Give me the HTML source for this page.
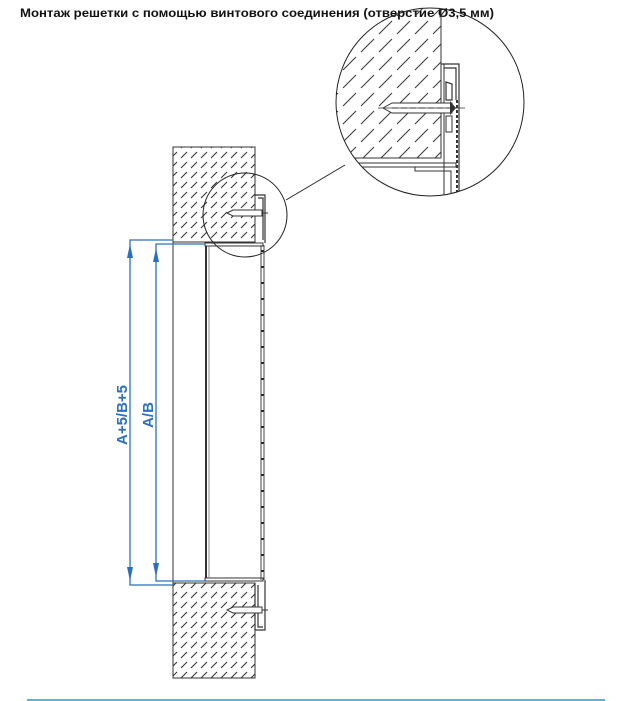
<!DOCTYPE html>
<html><head><meta charset="utf-8"><style>
html,body{margin:0;padding:0;background:#fff;}
svg{display:block;}
</style></head><body>
<svg width="623" height="701" viewBox="0 0 623 701" xmlns="http://www.w3.org/2000/svg">
<defs>
<pattern id="h" width="10" height="10" patternUnits="userSpaceOnUse">
<line x1="1" y1="8" x2="7" y2="2" stroke="#333" stroke-width="1.1"/>
</pattern>
<pattern id="hb" width="18" height="18" patternUnits="userSpaceOnUse">
<line x1="1" y1="16" x2="14" y2="3" stroke="#333" stroke-width="1"/>
</pattern>
<clipPath id="c"><circle cx="430" cy="102" r="94"/></clipPath>
</defs>
<text x="20" y="17" font-family="Liberation Sans, sans-serif" font-weight="bold" font-size="12" textLength="474" lengthAdjust="spacingAndGlyphs" fill="#111">Монтаж решетки с помощью винтового соединения (отверстие Ø3,5 мм)</text>

<rect x="173" y="147" width="82" height="95" fill="url(#h)" stroke="#333" stroke-width="1"/>
<rect x="173" y="583" width="82" height="95" fill="url(#h)" stroke="#333" stroke-width="1"/>
<line x1="173" y1="242" x2="173" y2="583" stroke="#333"/>
<rect x="205" y="243" width="58" height="3" fill="#fff" stroke="#333" stroke-width="1"/>
<rect x="205" y="578" width="58" height="3" fill="#fff" stroke="#333" stroke-width="1"/>
<line x1="206" y1="246" x2="206" y2="578" stroke="#333" stroke-width="2"/>
<line x1="209" y1="246" x2="209" y2="578" stroke="#888" stroke-width="1"/>
<line x1="261" y1="245" x2="261" y2="580" stroke="#444" stroke-width="1"/>
<line x1="262.5" y1="250" x2="262.5" y2="578" stroke="#222" stroke-width="2" stroke-dasharray="2 14"/>
<line x1="264" y1="245" x2="264" y2="580" stroke="#444" stroke-width="1"/>
<path d="M255 195 H265 V243 M258 198 H263 V240" fill="none" stroke="#333" stroke-width="1.2"/>
<line x1="255" y1="195" x2="255" y2="243" stroke="#333"/>
<path d="M255 583 V630 H265 V580 M258 585 V627 H263" fill="none" stroke="#333" stroke-width="1.2"/>
<g stroke="#333" stroke-width="1" fill="#fff">
<path d="M227 213 L233 210 H262 V216 H233 Z"/><line x1="262" y1="213" x2="268" y2="213"/>
<path d="M227 610 L233 607 H262 V613 H233 Z"/><line x1="262" y1="610" x2="268" y2="610"/>
</g>
<circle cx="245" cy="215" r="42" fill="none" stroke="#222" stroke-width="1"/>
<line x1="286" y1="200" x2="345" y2="165" stroke="#222"/>

<g clip-path="url(#c)">
<rect x="330" y="0" width="111" height="158" fill="url(#hb)"/>
<line x1="441" y1="0" x2="441" y2="158" stroke="#333"/>
<line x1="330" y1="158" x2="441" y2="158" stroke="#333"/>
<rect x="348" y="163" width="108" height="4" fill="#fff" stroke="#333"/>
<path d="M415 167 V171 H451 V210" fill="none" stroke="#333"/>
<path d="M441 64 H459 V196 H453 M444 68 H456 V100 M446 82 V100 H452 V84 Z" fill="none" stroke="#333" stroke-width="1.2"/>
<line x1="444" y1="64" x2="444" y2="200" stroke="#333" stroke-width="1"/>
<line x1="457" y1="100" x2="457" y2="200" stroke="#333" stroke-width="2" stroke-dasharray="3 2"/>
<path d="M446 116 V132 H452 V116 Z" fill="none" stroke="#333"/>
<path d="M383 108 L392 103 H452 V113 H392 Z" fill="#fff" stroke="#333"/>
<line x1="392" y1="108" x2="452" y2="108" stroke="#333" stroke-dasharray="6 3"/>
<line x1="378" y1="108" x2="465" y2="108" stroke="#333" stroke-width="0.8"/>
<path d="M450 101 L456 108 L450 115 Z" fill="#333"/>
</g>
<circle cx="430" cy="102" r="94" fill="none" stroke="#222" stroke-width="1"/>

<g stroke="#2a6fc0" stroke-width="1.3" fill="none">
<path d="M173 240 H130 V585 H173"/>
<path d="M205 244 H156 V581 H205"/>
</g>
<g fill="#2a6fc0">
<path d="M127 258 L130 244 L133 258 Z"/><path d="M127 567 L130 581 L133 567 Z"/>
<path d="M153 262 L156 248 L159 262 Z"/><path d="M153 563 L156 577 L159 563 Z"/>
</g>
<text transform="translate(127 415) rotate(-90)" text-anchor="middle" font-family="Liberation Sans, sans-serif" font-size="15" font-weight="bold" fill="#2a6fc0" textLength="60" lengthAdjust="spacingAndGlyphs">A+5/B+5</text>
<text transform="translate(153 415) rotate(-90)" text-anchor="middle" font-family="Liberation Sans, sans-serif" font-size="15" font-weight="bold" fill="#2a6fc0">A/B</text>

<line x1="27" y1="700" x2="605" y2="700" stroke="#4ab8e8" stroke-width="2"/>
</svg>
</body></html>
